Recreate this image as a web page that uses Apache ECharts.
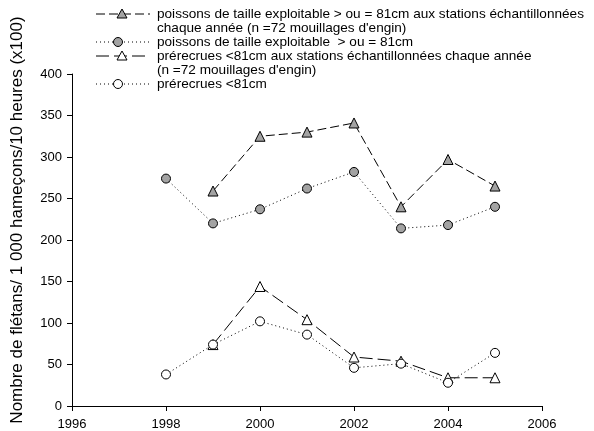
<!DOCTYPE html>
<html><head><meta charset="utf-8">
<script src="https://cdn.jsdelivr.net/npm/echarts@6/dist/echarts.min.js"></script>
<style>html,body{margin:0;padding:0;background:#fff}#c{width:594px;height:431px}</style>
</head><body><div id="c"></div>
<script>
// ---- data ----
const years = [1998, 1999, 2000, 2001, 2002, 2003, 2004, 2005];
const exploitStations = [null, 259, 325, 330, 341, 240, 297, 265];
const exploitAll      = [274, 220, 237, 262, 282, 214, 218, 240];
const prerecStations  = [null, 74, 144, 104, 59, 54, 34, 34];
const prerecAll       = [38, 74, 102, 86, 46, 51, 28, 64];
const xTickLabels = [1996, 1998, 2000, 2002, 2004, 2006];
const yTickLabels = [0, 50, 100, 150, 200, 250, 300, 350, 400];
const seriesNames = [
  "poissons de taille exploitable > ou = 81cm aux stations échantillonnées\nchaque année (n =72 mouillages d'engin)",
  "poissons de taille exploitable  > ou = 81cm",
  "prérecrues <81cm aux stations échantillonnées chaque année\n(n =72 mouillages d'engin)",
  "prérecrues <81cm"
];
const yAxisTitle = "Nombre de flétans/ 1 000 hameçons/10 heures (x100)";

// ---- styles ----
const FONT = "'Liberation Sans', Arial, sans-serif";
const GRAY = '#a3a3a3';
const styles = [
  {dash: [9, 4], symbol: 'triangle', fill: GRAY, size: 10},
  {dash: [1, 3], symbol: 'circle', fill: GRAY, size: 9},
  {dash: [13, 5], symbol: 'triangle', fill: '#fff', size: 10},
  {dash: [1, 3], symbol: 'circle', fill: '#fff', size: 9}
];
const seriesValues = [exploitStations, exploitAll, prerecStations, prerecAll];

function pairs(vals) {
  const out = [];
  years.forEach((y, i) => { if (vals[i] !== null) out.push([y, vals[i]]); });
  return out;
}

const chart = echarts.init(document.getElementById('c'), null, {renderer: 'canvas'});

const series = seriesValues.map((vals, i) => ({
  name: seriesNames[i],
  type: 'line',
  data: pairs(vals),
  symbol: styles[i].symbol,
  symbolSize: styles[i].size,
  itemStyle: {color: styles[i].fill, borderColor: '#000', borderWidth: 1},
  lineStyle: {color: '#000', width: 1, type: styles[i].dash},
  z: 2 + i,
  animation: false
}));

// legend drawn as graphic
const legendX0 = 96, legendX1 = 150, textX = 157, lineH = 14;
const legendRows = [14, 42, 56, 84];
const legendSymX = [122, 118, 122, 118];
const graphics = [];
seriesNames.forEach((name, i) => {
  const y = legendRows[i];
  const st = styles[i];
  graphics.push({type: 'line', shape: {x1: legendX0, y1: y, x2: legendX1, y2: y},
    style: {stroke: '#000', lineWidth: 1, lineDash: st.dash}, silent: true});
  const sx = legendSymX[i];
  if (st.symbol === 'circle') {
    graphics.push({type: 'circle', shape: {cx: sx, cy: y, r: st.size / 2},
      style: {fill: st.fill, stroke: '#000', lineWidth: 1}, z: 10});
  } else {
    const h = st.size;
    graphics.push({type: 'polygon', shape: {points: [[sx, y - h/2], [sx + h/2, y + h/2 - 1], [sx - h/2, y + h/2 - 1]]},
      style: {fill: st.fill, stroke: '#000', lineWidth: 1}, z: 10});
  }
  graphics.push({type: 'text', x: textX, y: y - 7,
    style: {text: name, font: '13.6px ' + FONT, fill: '#000', lineHeight: lineH, textVerticalAlign: 'top'}});
});
graphics.push({type: 'text', x: 17, y: 220, rotation: Math.PI / 2,
  style: {text: yAxisTitle, font: '17px ' + FONT, fill: '#000', textAlign: 'center', textVerticalAlign: 'middle'}});

chart.setOption({
  animation: false,
  backgroundColor: '#fff',
  textStyle: {fontFamily: FONT},
  grid: {left: 72, right: 52, top: 74, bottom: 23},
  xAxis: {
    type: 'value', min: xTickLabels[0], max: xTickLabels[xTickLabels.length - 1], interval: 2,
    axisLine: {onZero: false, lineStyle: {color: '#000', width: 1}},
    axisTick: {show: true, length: 5, lineStyle: {color: '#000'}},
    axisLabel: {color: '#000', fontSize: 13, margin: 12, formatter: v => String(v)},
    splitLine: {show: false}
  },
  yAxis: {
    type: 'value', min: yTickLabels[0], max: yTickLabels[yTickLabels.length - 1], interval: 50,
    axisLine: {show: true, onZero: false, lineStyle: {color: '#000', width: 1}},
    axisTick: {show: true, length: 5, lineStyle: {color: '#000'}},
    axisLabel: {color: '#000', fontSize: 13, margin: 10},
    splitLine: {show: false}
  },
  graphic: graphics,
  series: series
});
</script></body></html>
